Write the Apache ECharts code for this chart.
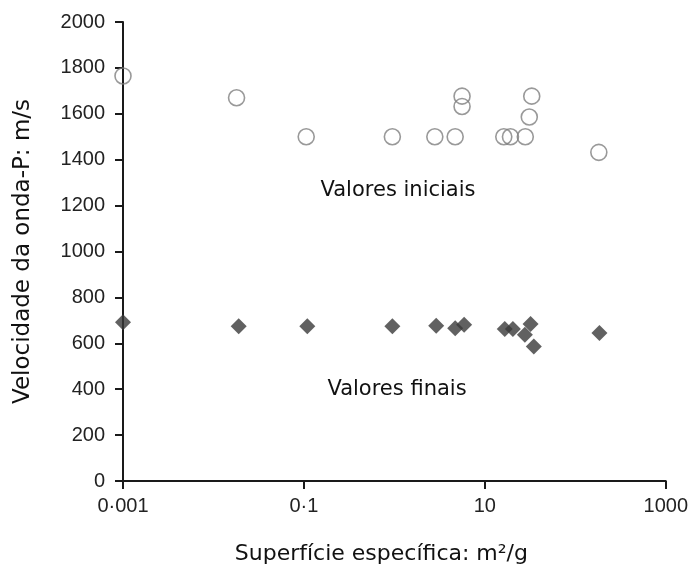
<!DOCTYPE html>
<html><head><meta charset="utf-8">
<script src="https://cdn.jsdelivr.net/npm/echarts@6/dist/echarts.min.js"></script>
<style>html,body{margin:0;padding:0;background:#fff}#c{width:691px;height:574px}</style>
</head><body><div id="c"></div>
<script>
const initX = [0.001, 0.018, 0.106, 0.95, 2.8, 4.7, 5.6, 5.6, 16.2, 19.2, 28, 31, 33, 182];
const initY = [1765, 1670, 1500, 1500, 1500, 1500, 1677, 1632, 1500, 1500, 1500, 1586, 1677, 1432];
const finalX = [0.001, 0.019, 0.109, 0.95, 2.9, 4.7, 5.9, 16.6, 20.4, 27.7, 32, 34.8, 185];
const finalY = [692, 674, 674, 674, 677, 666, 681, 662, 662, 637, 684, 586, 645];
const xTickLabels = {'-3':'0·001','-1':'0·1','1':'10','3':'1000'};

const chart = echarts.init(document.getElementById('c'));
chart.setOption({
  animation:false,
  grid:{left:123,right:24,top:22,bottom:93},
  xAxis:{type:'log',logBase:10,min:0.001,max:1000,interval:2,
    name:'Superfície específica: m²/g',nameLocation:'middle',nameGap:62,
    nameTextStyle:{fontFamily:'DejaVu Sans',fontSize:22,color:'#111',padding:[0,26,0,0]},
    axisLine:{lineStyle:{color:'#1a1a1a',width:2}},
    axisTick:{show:true,length:8,lineStyle:{color:'#1a1a1a',width:2}},
    axisLabel:{fontFamily:'Liberation Sans',fontSize:20,color:'#222',margin:15,
      formatter:v=>{const k=String(Math.round(Math.log10(v)));return xTickLabels[k]!==undefined?xTickLabels[k]:'';}},
    splitLine:{show:false}},
  yAxis:{type:'value',min:0,max:2000,interval:200,
    name:'Velocidade da onda-P: m/s',nameLocation:'middle',nameGap:88,
    nameTextStyle:{fontFamily:'DejaVu Sans',fontSize:23,color:'#111'},
    axisLine:{show:true,lineStyle:{color:'#1a1a1a',width:2}},
    axisTick:{show:true,length:8,lineStyle:{color:'#1a1a1a',width:2}},
    axisLabel:{fontFamily:'Liberation Sans',fontSize:20,color:'#222',margin:18,formatter:v=>String(v)},
    splitLine:{show:false}},
  series:[
    {type:'scatter',data:initX.map((x,i)=>[x,initY[i]]),symbol:'circle',symbolSize:16,
      itemStyle:{color:'rgba(255,255,255,0)',borderColor:'#808080',borderWidth:1.6}},
    {type:'scatter',data:finalX.map((x,i)=>[x,finalY[i]]),symbol:'diamond',symbolSize:[16,16],
      itemStyle:{color:'#3a3a3a'}}
  ],
  graphic:[
    {type:'text',x:398,y:191,style:{text:'Valores iniciais',font:'21px "DejaVu Sans"',fill:'#111',textAlign:'center',textVerticalAlign:'middle'}},
    {type:'text',x:397,y:390,style:{text:'Valores finais',font:'21px "DejaVu Sans"',fill:'#111',textAlign:'center',textVerticalAlign:'middle'}}
  ]
});
</script></body></html>
